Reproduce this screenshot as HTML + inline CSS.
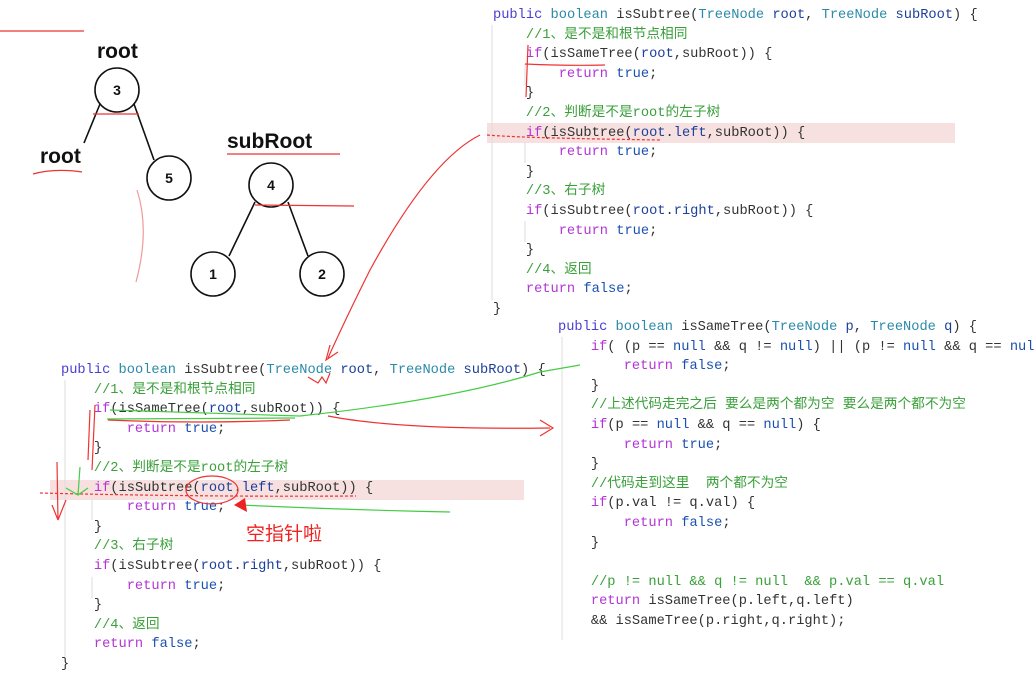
<!DOCTYPE html>
<html><head><meta charset="utf-8"><style>
html,body{margin:0;padding:0;background:#fff;width:1034px;height:675px;overflow:hidden;position:relative}
pre{position:absolute;margin:0;font-family:"Liberation Mono","Noto Sans CJK SC",monospace;font-size:13.7px;line-height:19.6px;color:#333}
.k{color:#4a3fd0}.t{color:#2a8aa8}.v{color:#1d3f9c}.r{color:#b235d6}.c{color:#3aa03a}.b{color:#1a50b0}
.hl{position:absolute;background:#f6e0e0}
.lbl{position:absolute;font-family:"Liberation Sans",sans-serif;font-weight:bold;font-size:21px;color:#111}
svg{position:absolute;left:0;top:0}
</style></head><body>
<div class="hl" style="left:487px;top:123px;width:468px;height:20px"></div>
<div class="hl" style="left:50px;top:480px;width:474px;height:20px"></div>
<div class="lbl" style="left:97px;top:40px">root</div>
<div class="lbl" style="left:40px;top:145px">root</div>
<div class="lbl" style="left:227px;top:130px">subRoot</div>
<pre style="left:493px;top:6px"><span class="k">public</span> <span class="t">boolean</span> isSubtree(<span class="t">TreeNode</span> <span class="v">root</span>, <span class="t">TreeNode</span> <span class="v">subRoot</span>) {
    <span class="c">//1、是不是和根节点相同</span>
    <span class="r">if</span>(isSameTree(<span class="v">root</span>,subRoot)) {
        <span class="r">return</span> <span class="b">true</span>;
    }
    <span class="c">//2、判断是不是root的左子树</span>
    <span class="r">if</span>(isSubtree(<span class="v">root</span>.<span class="v">left</span>,subRoot)) {
        <span class="r">return</span> <span class="b">true</span>;
    }
    <span class="c">//3、右子树</span>
    <span class="r">if</span>(isSubtree(<span class="v">root</span>.<span class="v">right</span>,subRoot)) {
        <span class="r">return</span> <span class="b">true</span>;
    }
    <span class="c">//4、返回</span>
    <span class="r">return</span> <span class="b">false</span>;
}</pre>
<pre style="left:61px;top:361px"><span class="k">public</span> <span class="t">boolean</span> isSubtree(<span class="t">TreeNode</span> <span class="v">root</span>, <span class="t">TreeNode</span> <span class="v">subRoot</span>) {
    <span class="c">//1、是不是和根节点相同</span>
    <span class="r">if</span>(isSameTree(<span class="v">root</span>,subRoot)) {
        <span class="r">return</span> <span class="b">true</span>;
    }
    <span class="c">//2、判断是不是root的左子树</span>
    <span class="r">if</span>(isSubtree(<span class="v">root</span>.<span class="v">left</span>,subRoot)) {
        <span class="r">return</span> <span class="b">true</span>;
    }
    <span class="c">//3、右子树</span>
    <span class="r">if</span>(isSubtree(<span class="v">root</span>.<span class="v">right</span>,subRoot)) {
        <span class="r">return</span> <span class="b">true</span>;
    }
    <span class="c">//4、返回</span>
    <span class="r">return</span> <span class="b">false</span>;
}</pre>
<pre style="left:558px;top:318px"><span class="k">public</span> <span class="t">boolean</span> isSameTree(<span class="t">TreeNode</span> <span class="v">p</span>, <span class="t">TreeNode</span> <span class="v">q</span>) {
    <span class="r">if</span>( (p == <span class="b">null</span> &amp;&amp; q != <span class="b">null</span>) || (p != <span class="b">null</span> &amp;&amp; q == <span class="b">null</span>))
        <span class="r">return</span> <span class="b">false</span>;
    }
    <span class="c">//上述代码走完之后 要么是两个都为空 要么是两个都不为空</span>
    <span class="r">if</span>(p == <span class="b">null</span> &amp;&amp; q == <span class="b">null</span>) {
        <span class="r">return</span> <span class="b">true</span>;
    }
    <span class="c">//代码走到这里  两个都不为空</span>
    <span class="r">if</span>(p.val != q.val) {
        <span class="r">return</span> <span class="b">false</span>;
    }

    <span class="c">//p != null &amp;&amp; q != null  &amp;&amp; p.val == q.val</span>
    <span class="r">return</span> isSameTree(p.left,q.left)
    &amp;&amp; isSameTree(p.right,q.right);</pre>
<svg width="1034" height="675" viewBox="0 0 1034 675">
<g stroke="#ddd" stroke-width="1">
<line x1="492" y1="25" x2="492" y2="300"/><line x1="65" y1="380" x2="65" y2="657"/><line x1="562" y1="337" x2="562" y2="640"/>
<line x1="525" y1="64" x2="525" y2="85"/><line x1="525" y1="142" x2="525" y2="163"/><line x1="525" y1="221" x2="525" y2="242"/>
<line x1="92" y1="499" x2="92" y2="520"/><line x1="92" y1="577" x2="92" y2="598"/>
</g>
<g fill="none" stroke="#111" stroke-width="1.6">
<circle cx="117" cy="90" r="22"/><circle cx="169" cy="178" r="22"/>
<circle cx="271" cy="185" r="22"/><circle cx="213" cy="274" r="22"/><circle cx="322" cy="274" r="22"/>
<line x1="100" y1="104" x2="84" y2="143"/><line x1="134" y1="104" x2="154" y2="160"/>
<line x1="255" y1="202" x2="229" y2="256"/><line x1="288" y1="202" x2="308" y2="256"/>
</g>
<g font-family="Liberation Sans,sans-serif" font-weight="bold" font-size="14" text-anchor="middle" fill="#111">
<text x="117" y="95">3</text><text x="169" y="183">5</text><text x="271" y="190">4</text><text x="213" y="279">1</text><text x="322" y="279">2</text>
</g>
<g fill="none" stroke="#e33" stroke-width="1.2">
<line x1="0" y1="31" x2="84" y2="31"/>
<line x1="93" y1="114" x2="139" y2="114"/>
<path d="M33 174 Q55 168 82 172"/>
<line x1="227" y1="154" x2="340" y2="154"/>
<line x1="255" y1="205" x2="354" y2="206"/>
<path d="M137 190 Q150 230 136 282" stroke="#e99"/>
<path d="M528 45 L526 97"/>
<path d="M525 64 Q570 66 605 65"/>
<path d="M487 135 Q520 138 660 140" stroke-dasharray="3 2"/>
<path d="M480 135 Q430 160 370 270 Q345 320 328 358"/>
<path d="M330 345 L326 360 L338 352"/>
<path d="M308 377 L318 383 L322 377 L326 383 L330 373"/>
<path d="M90 410 L88 460 M95 405 L92 470"/>
<path d="M108 420 Q200 424 290 420"/>
<path d="M328 416 Q400 430 550 428 M540 420 L553 428 L540 436"/>
<path d="M40 493 Q200 497 356 496" stroke-dasharray="3 2"/>
<ellipse cx="212" cy="490" rx="26" ry="14"/>
<path d="M57 462 L58 520 M52 505 L58 520 M66 500 L58 520"/>
</g>
<g fill="none" stroke="#4c4" stroke-width="1.2">
<path d="M110 410 L300 416 Q450 400 540 372 L580 365"/>
<path d="M107 419 L295 418"/>
<path d="M80 467 L78 495 M66 488 L78 495 L88 488"/>
<path d="M240 505 Q350 510 450 512"/>
</g>
<path d="M234 505 L245 498 L247 512 Z" fill="#e22"/>
<text x="246" y="540" font-family="Liberation Sans,Noto Sans CJK SC,sans-serif" font-size="19" fill="#e22">空指针啦</text>
</svg>
</body></html>
